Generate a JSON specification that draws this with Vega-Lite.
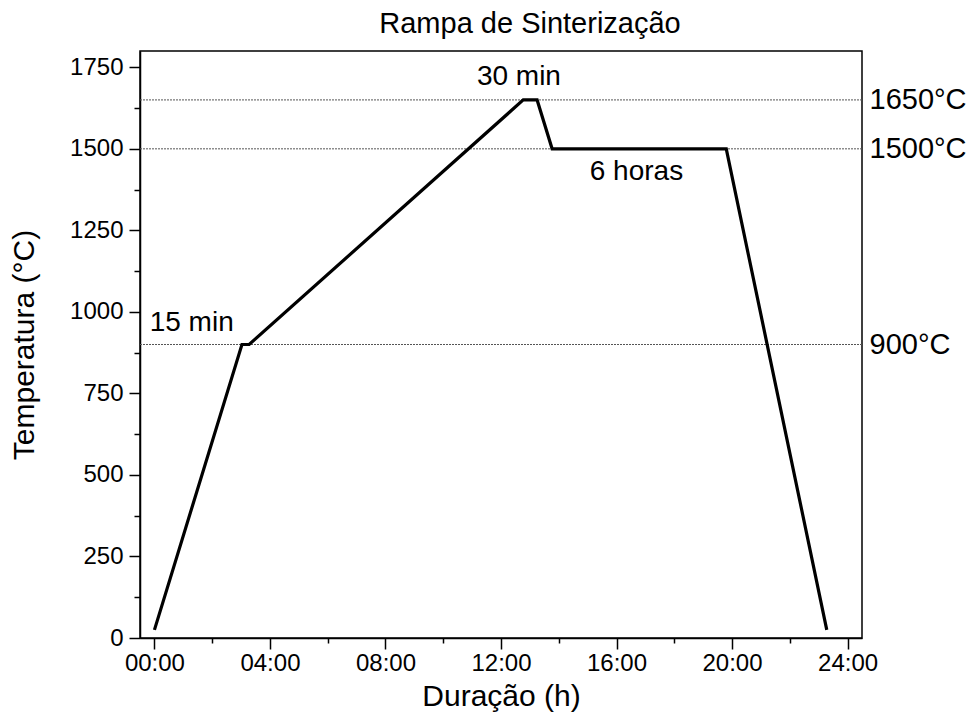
{
  "$schema": "https://vega.github.io/schema/vega-lite/v6.json",
  "width": 722,
  "height": 587,
  "autosize": {"type": "none"},
  "padding": {"left": 140, "top": 51, "right": 109, "bottom": 87},
  "background": "white",
  "config": {
    "font": "Liberation Sans",
    "view": {"stroke": "black", "strokeWidth": 1.5},
    "axis": {
      "domainColor": "black",
      "domainWidth": 1.5,
      "tickColor": "black",
      "tickWidth": 1.5,
      "labelColor": "black",
      "titleColor": "black",
      "labelFont": "Liberation Sans",
      "titleFont": "Liberation Sans",
      "labelFontSize": 24,
      "titleFontSize": 30,
      "titleFontWeight": "normal",
      "grid": false
    }
  },
  "title": {
    "text": "Rampa de Sinterização",
    "fontSize": 29,
    "fontWeight": "normal",
    "font": "Liberation Sans",
    "color": "black",
    "dx": 29,
    "offset": 12
  },
  "datasets": {
    "ramp": [
      {"hora": 0.0, "temp": 25},
      {"hora": 3.03, "temp": 900},
      {"hora": 3.28, "temp": 900},
      {"hora": 12.77, "temp": 1650},
      {"hora": 13.25, "temp": 1650},
      {"hora": 13.77, "temp": 1500},
      {"hora": 19.8, "temp": 1500},
      {"hora": 23.28, "temp": 25}
    ],
    "levels": [{"temp": 900}, {"temp": 1500}, {"temp": 1650}],
    "notes": [
      {"hora": 1.29, "temp": 965, "label": "15 min"},
      {"hora": 12.62, "temp": 1720, "label": "30 min"},
      {"hora": 16.69, "temp": 1428, "label": "6 horas"}
    ]
  },
  "layer": [
    {
      "data": {"name": "levels"},
      "mark": {"type": "rule", "color": "#555555", "strokeWidth": 1, "strokeDash": [2, 1]},
      "encoding": {
        "y": {
          "field": "temp",
          "type": "quantitative",
          "scale": {"domain": [0, 1800], "nice": false},
          "axis": {
            "orient": "right",
            "values": [900, 1500, 1650],
            "labelExpr": "datum.value + '°C'",
            "labelFontSize": 29,
            "ticks": false,
            "domain": false,
            "labelPadding": 7,
            "title": null
          }
        }
      }
    },
    {
      "data": {"name": "ramp"},
      "mark": {"type": "line", "color": "black", "strokeWidth": 3.2, "strokeJoin": "miter"},
      "encoding": {
        "x": {
          "field": "hora",
          "type": "quantitative",
          "scale": {"domain": [-0.5, 24.5], "nice": false, "zero": false},
          "axis": {
            "title": "Duração (h)",
            "values": [0, 2, 4, 6, 8, 10, 12, 14, 16, 18, 20, 22, 24],
            "labelExpr": "datum.value % 4 === 0 ? ((datum.value < 10 ? '0' : '') + datum.value + ':00') : ''",
            "tickSize": {"expr": "datum.value % 4 === 0 ? 11 : 5"},
            "labelPadding": 2,
            "titlePadding": 6
          }
        },
        "y": {
          "field": "temp",
          "type": "quantitative",
          "scale": {"domain": [0, 1800], "nice": false},
          "axis": {
            "title": "Temperatura (°C)",
            "values": [0, 125, 250, 375, 500, 625, 750, 875, 1000, 1125, 1250, 1375, 1500, 1625, 1750],
            "labelExpr": "datum.value % 250 === 0 ? datum.value : ''",
            "tickSize": {"expr": "datum.value % 250 === 0 ? 11 : 6"},
            "labelPadding": 6,
            "titlePadding": 30
          }
        }
      }
    },
    {
      "data": {"name": "notes"},
      "mark": {"type": "text", "fontSize": 28, "font": "Liberation Sans", "color": "black"},
      "encoding": {
        "x": {"field": "hora", "type": "quantitative"},
        "y": {"field": "temp", "type": "quantitative", "axis": null},
        "text": {"field": "label"}
      }
    }
  ],
  "resolve": {"axis": {"y": "independent"}}
}
